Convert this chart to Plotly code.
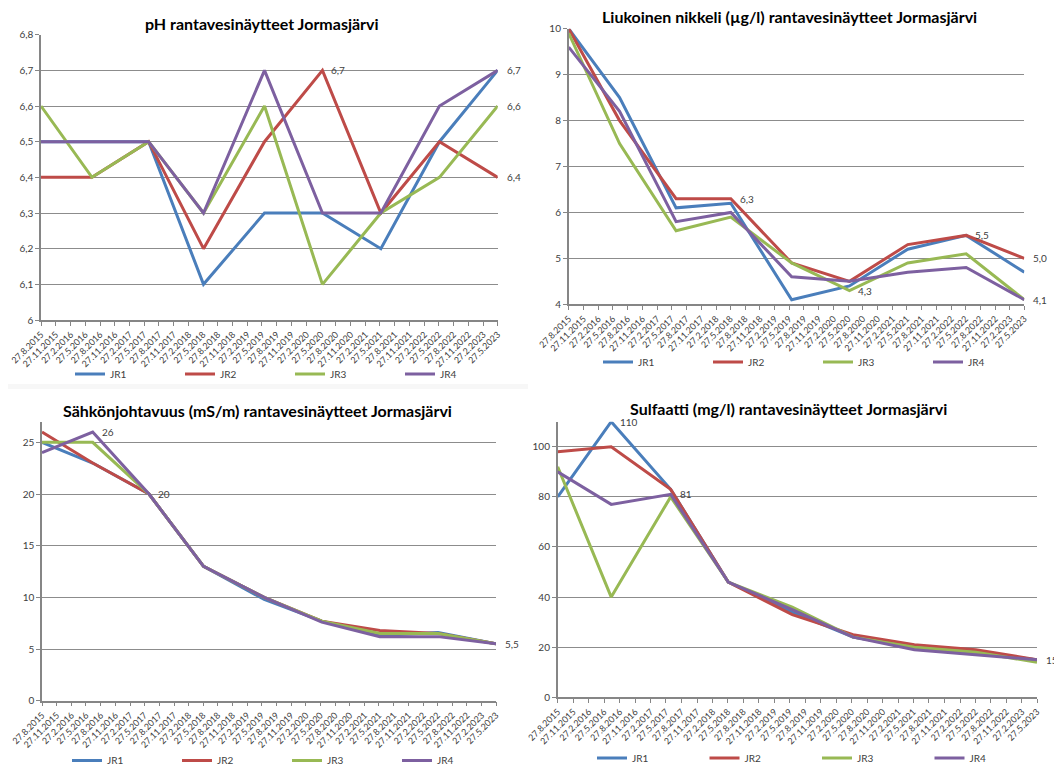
import plotly.graph_objects as go
from datetime import date

# ---------------- data ----------------
SERIES = ["JR1", "JR2", "JR3", "JR4"]
COLORS = ["#4A7EBB", "#BE4B48", "#98B954", "#7D60A0"]

SAMPLE_DATES = ["2015-08-27", "2016-07-08", "2017-06-24", "2018-05-30", "2019-06-12",
                "2020-06-05", "2021-06-02", "2022-05-31", "2023-05-27"]

TICK_LABELS = ["27.8.2015", "27.11.2015", "27.2.2016", "27.5.2016", "27.8.2016", "27.11.2016",
               "27.2.2017", "27.5.2017", "27.8.2017", "27.11.2017", "27.2.2018", "27.5.2018",
               "27.8.2018", "27.11.2018", "27.2.2019", "27.5.2019", "27.8.2019", "27.11.2019",
               "27.2.2020", "27.5.2020", "27.8.2020", "27.11.2020", "27.2.2021", "27.5.2021",
               "27.8.2021", "27.11.2021", "27.2.2022", "27.5.2022", "27.8.2022", "27.11.2022",
               "27.2.2023", "27.5.2023"]

PH_JR1 = [6.5, 6.5, 6.5, 6.1, 6.3, 6.3, 6.2, 6.5, 6.7]
PH_JR2 = [6.4, 6.4, 6.5, 6.2, 6.5, 6.7, 6.3, 6.5, 6.4]
PH_JR3 = [6.6, 6.4, 6.5, 6.3, 6.6, 6.1, 6.3, 6.4, 6.6]
PH_JR4 = [6.5, 6.5, 6.5, 6.3, 6.7, 6.3, 6.3, 6.6, 6.7]

NI_JR1 = [10.0, 8.5, 6.1, 6.2, 4.1, 4.4, 5.2, 5.5, 4.7]
NI_JR2 = [10.0, 8.0, 6.3, 6.3, 4.9, 4.5, 5.3, 5.5, 5.0]
NI_JR3 = [9.9, 7.5, 5.6, 5.9, 4.9, 4.3, 4.9, 5.1, 4.1]
NI_JR4 = [9.6, 8.2, 5.8, 6.0, 4.6, 4.5, 4.7, 4.8, 4.1]

EC_JR1 = [25, 23, 20, 13, 9.8, 7.7, 6.3, 6.6, 5.5]
EC_JR2 = [26, 23, 20, 13, 10, 7.7, 6.8, 6.5, 5.5]
EC_JR3 = [25, 25, 20, 13, 10, 7.7, 6.5, 6.5, 5.5]
EC_JR4 = [24, 26, 20, 13, 10, 7.6, 6.2, 6.2, 5.5]

SO4_JR1 = [80, 110, 83, 46, 34, 24, 20, 18, 15]
SO4_JR2 = [98, 100, 83, 46, 33, 25, 21, 19, 15]
SO4_JR3 = [92, 40, 80, 46, 36, 24, 20, 18, 14]
SO4_JR4 = [90, 77, 81, 46, 35, 24, 19, 17, 15]

TITLES = ["pH rantavesinäytteet Jormasjärvi",
          "Liukoinen nikkeli (µg/l) rantavesinäytteet Jormasjärvi",
          "Sähkönjohtavuus (mS/m) rantavesinäytteet Jormasjärvi",
          "Sulfaatti (mg/l) rantavesinäytteet Jormasjärvi"]

# data labels: (series index, point index)
PH_LABELS = [(1, 5), (3, 8), (2, 8), (1, 8)]
NI_LABELS = [(1, 3), (1, 7), (2, 5), (1, 8), (3, 8)]
EC_LABELS = [(3, 1), (3, 2), (3, 8)]
SO4_LABELS = [(0, 1), (3, 2), (3, 8)]


def label_date(s):
    d, m, y = s.split(".")
    return date(int(y), int(m), int(d)).isoformat()


TICK_DATES = [label_date(s) for s in TICK_LABELS]

# the page body adds an 8px offset; figure is sized so it ends at the window edge
OFF = 8
W, H = 1062 - OFF, 765 - OFF


def px(x):
    return (x - OFF) / W


def py(y):
    return 1 - (y - OFF) / H


panels = [
    dict(data=[PH_JR1, PH_JR2, PH_JR3, PH_JR4], labels=PH_LABELS, fmt="{:.1f}",
         xdom=[px(41), px(497.7)], ydom=[py(320), py(34.7)], yr=[6, 6.8], dtick=0.1,
         title_xy=(px(262), py(23)), legend_xy=(px(70), py(374)), ew=65),
    dict(data=[NI_JR1, NI_JR2, NI_JR3, NI_JR4], labels=NI_LABELS, fmt="{:.1f}",
         xdom=[px(568.7), px(1024.3)], ydom=[py(304.3), py(28.7)], yr=[4, 10], dtick=1,
         title_xy=(px(789), py(17)), legend_xy=(px(598), py(362)), ew=65),
    dict(data=[EC_JR1, EC_JR2, EC_JR3, EC_JR4], labels=EC_LABELS, fmt="{:g}",
         xdom=[px(42), px(496)], ydom=[py(700.7), py(421.7)], yr=[0, 27], dtick=5,
         title_xy=(px(257), py(410.7)), legend_xy=(px(67), py(760.5)), ew=65),
    dict(data=[SO4_JR1, SO4_JR2, SO4_JR3, SO4_JR4], labels=SO4_LABELS, fmt="{:g}",
         xdom=[px(557.7), px(1037)], ydom=[py(697.3), py(421.7)], yr=[0, 110], dtick=20,
         title_xy=(px(788.5), py(408.3)), legend_xy=(px(592), py(758)), ew=67.5),
]

GRID = "#8C8C8C"
AXIS = "#868686"
TXT = "#404040"
FONT = "Lato"

fig = go.Figure()
layout = dict(
    width=W, height=H,
    margin=dict(l=0, r=0, t=0, b=0, autoexpand=False),
    paper_bgcolor="white", plot_bgcolor="white",
    separators=", ",
    font=dict(family=FONT, color=TXT, size=10),
    annotations=[],
    shapes=[dict(type="rect", xref="paper", yref="paper", layer="below",
                 x0=0, x1=px(528), y0=py(389), y1=py(384),
                 fillcolor="#F7F7F7", line=dict(width=0))],
)

for i, p in enumerate(panels):
    n = "" if i == 0 else str(i + 1)
    xref, yref = "x" + n, "y" + n
    leg = "legend" + n
    for s, (name, col) in enumerate(zip(SERIES, COLORS)):
        fig.add_trace(go.Scatter(
            x=SAMPLE_DATES, y=p["data"][s], name=name, mode="lines",
            line=dict(color=col, width=3), xaxis=xref, yaxis=yref, legend=leg,
            hoverinfo="x+y+name",
        ))
    layout["xaxis" + n] = dict(
        domain=p["xdom"], anchor=yref, type="date",
        range=[TICK_DATES[0], TICK_DATES[-1]],
        tickmode="array", tickvals=TICK_DATES, ticktext=TICK_LABELS, tickangle=-45,
        ticks="outside", ticklen=4, tickcolor=AXIS, tickwidth=1,
        ticklabeloverflow="allow",
        showline=True, linecolor=AXIS, linewidth=1.5, showgrid=False, zeroline=False,
        tickfont=dict(size=9, color=TXT, family=FONT),
    )
    layout["yaxis" + n] = dict(
        domain=p["ydom"], anchor=xref, range=p["yr"], dtick=p["dtick"], tick0=0,
        ticks="outside", ticklen=4, tickcolor=AXIS, tickwidth=1,
        showline=True, linecolor=AXIS, linewidth=1.5,
        showgrid=True, gridcolor=GRID, gridwidth=1, zeroline=False,
        tickfont=dict(size=10, color=TXT, family=FONT),
    )
    layout[leg] = dict(
        orientation="h", x=p["legend_xy"][0], y=p["legend_xy"][1],
        xanchor="left", yanchor="middle",
        entrywidth=p["ew"], entrywidthmode="pixels",
        font=dict(size=10, color=TXT, family=FONT),
        bgcolor="rgba(0,0,0,0)", tracegroupgap=0,
    )
    layout["annotations"].append(dict(
        text="<b>" + TITLES[i] + "</b>", x=p["title_xy"][0], y=p["title_xy"][1],
        xref="paper", yref="paper", xanchor="center", yanchor="middle",
        showarrow=False, font=dict(size=16, color="#000000", family=FONT),
    ))
    for s, k in p["labels"]:
        v = p["data"][s][k]
        layout["annotations"].append(dict(
            text=p["fmt"].format(v).replace(".", ","),
            x=SAMPLE_DATES[k], y=v, xref=xref, yref=yref,
            xanchor="left", yanchor="middle", xshift=7, showarrow=False,
            font=dict(size=10, color=TXT, family=FONT),
        ))

fig.update_layout(**layout)
fig.write_html("out.html")
